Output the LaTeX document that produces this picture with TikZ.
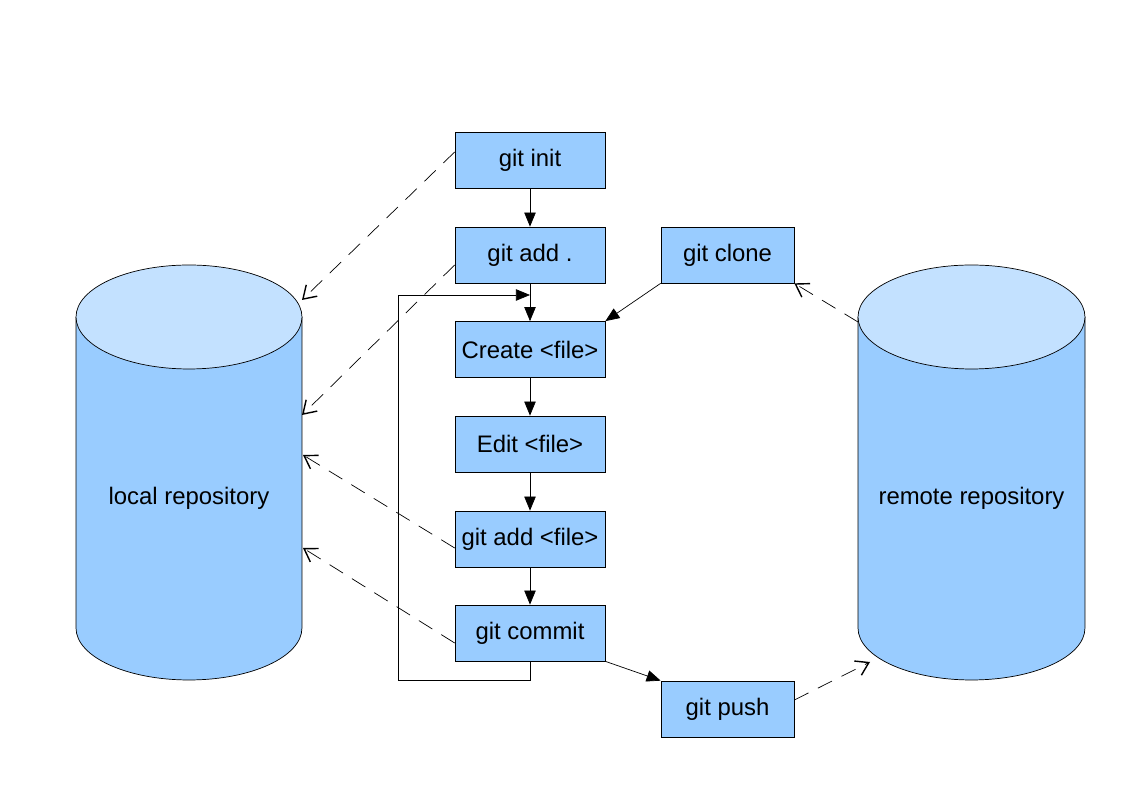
\documentclass[tikz,border=0pt]{standalone}
\usepackage{fontspec}
\setmainfont{Liberation Sans}
\usetikzlibrary{arrows.meta}
\definecolor{boxblue}{RGB}{153,204,255}
\definecolor{topblue}{RGB}{195,225,255}
\tikzset{
  cmd/.style={draw, fill=boxblue, minimum width=3cm, minimum height=1.12cm, inner sep=0pt},
  flow/.style={-{Triangle[length=8pt,width=6.5pt]}},
  touch/.style={dash pattern=on 9pt off 6pt, -{Straight Barb[length=7pt,width=9pt,line width=0.8pt]}},
}
\begin{document}
\begin{tikzpicture}[x=0.02cm, y=0.02cm, font=\fontsize{13.6}{16}\selectfont]
  \useasboundingbox (0,0) rectangle (1123,794);
  % repositories
  \draw[fill=boxblue] (76,477) -- (76,166) arc[start angle=180, end angle=360, x radius=2.26cm, y radius=1.04cm] -- (302,477);
  \draw[fill=topblue] (189,477) ellipse[x radius=2.26cm, y radius=1.04cm];
  \draw[fill=boxblue] (858,477) -- (858,166) arc[start angle=180, end angle=360, x radius=2.27cm, y radius=1.04cm] -- (1085,477);
  \draw[fill=topblue] (971.5,477) ellipse[x radius=2.27cm, y radius=1.04cm];
  \node (local) at (189,296) {local repository};
  \node (remote) at (971.5,296) {remote repository};
  \coordinate (l1) at (302,494);
  \coordinate (l2) at (302,379);
  \coordinate (l3) at (303,339);
  \coordinate (l4) at (303,246);
  \coordinate (r1) at (858,472);
  \coordinate (r2) at (870,132);
  % commands
  \node[cmd] (init) at (530,633.5) {git init};
  \node[cmd] (addall) at (530,539) {git add .};
  \node[cmd] (create) at (530,444.5) {Create <file>};
  \node[cmd] (edit) at (530,350) {Edit <file>};
  \node[cmd] (addfile) at (530,255) {git add <file>};
  \node[cmd] (commit) at (530,161) {git commit};
  \node[cmd, minimum width=2.66cm] (clone) at (727.5,539) {git clone};
  \node[cmd, minimum width=2.66cm] (push) at (727.5,85) {git push};
  % flow
  \draw[flow] (init) -- (addall);
  \draw[flow] (addall) -- (create);
  \draw[flow] (create) -- (edit);
  \draw[flow] (edit) -- (addfile);
  \draw[flow] (addfile) -- (commit);
  \draw[flow] (clone.south west) -- (create.north east);
  \draw[flow] (commit.south east) -- (push.north west);
  \draw[flow] (commit.south) -- ++(0,-19) -| (398,499) -- (create.north |- 0,499);
  % repository access
  \draw[touch] ([yshift=0.17cm]init.west) -- (l1);
  \draw[touch] ([yshift=-0.2cm]addall.west) -- (l2);
  \draw[touch] ([yshift=-0.18cm]addfile.west) -- (l3);
  \draw[touch] ([yshift=-0.2cm]commit.west) -- (l4);
  \draw[touch] (r1) -- (clone.south east);
  \draw[touch] ([yshift=0.18cm]push.east) -- (r2);
\end{tikzpicture}
\end{document}
